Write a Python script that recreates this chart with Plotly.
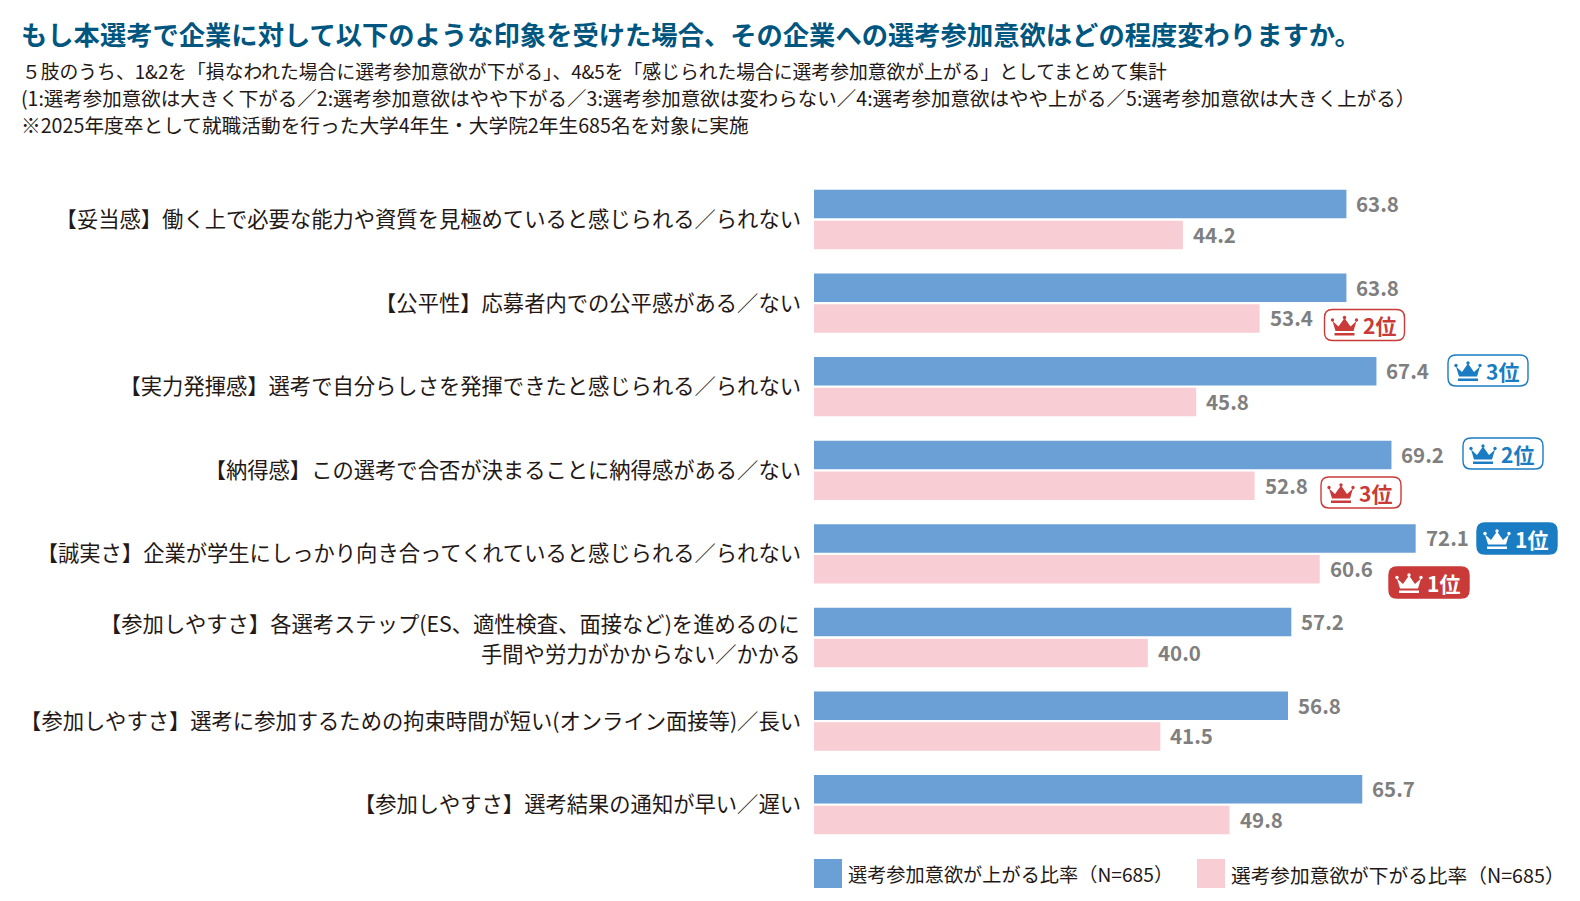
import plotly.graph_objects as go

WIDTH, HEIGHT = 1580, 901
FONT = "Noto Sans CJK JP"

categories = [
    "【妥当感】働く上で必要な能力や資質を見極めていると感じられる／られない",
    "【公平性】応募者内での公平感がある／ない",
    "【実力発揮感】選考で自分らしさを発揮できたと感じられる／られない",
    "【納得感】この選考で合否が決まることに納得感がある／ない",
    "【誠実さ】企業が学生にしっかり向き合ってくれていると感じられる／られない",
    "【参加しやすさ】各選考ステップ(ES、適性検査、面接など)を進めるのに<br>手間や労力がかからない／かかる",
    "【参加しやすさ】選考に参加するための拘束時間が短い(オンライン面接等)／長い",
    "【参加しやすさ】選考結果の通知が早い／遅い",
]
rise_values = [63.8, 63.8, 67.4, 69.2, 72.1, 57.2, 56.8, 65.7]
fall_values = [44.2, 53.4, 45.8, 52.8, 60.6, 40.0, 41.5, 49.8]
rise_name = "選考参加意欲が上がる比率（N=685）"
fall_name = "選考参加意欲が下がる比率（N=685）"

title_text = "もし本選考で企業に対して以下のような印象を受けた場合、その企業への選考参加意欲はどの程度変わりますか。"
note_lines = [
    "５肢のうち、1&2を「損なわれた場合に選考参加意欲が下がる」、4&5を「感じられた場合に選考参加意欲が上がる」としてまとめて集計",
    "(1:選考参加意欲は大きく下がる／2:選考参加意欲はやや下がる／3:選考参加意欲は変わらない／4:選考参加意欲はやや上がる／5:選考参加意欲は大きく上がる）",
    "※2025年度卒として就職活動を行った大学4年生・大学院2年生685名を対象に実施",
]

BLUE = "#6ba0d6"
PINK = "#f8ced4"
BADGE_BLUE = "#1a7cc2"
BADGE_RED = "#c93a38"
INK = "#231815"
GREY = "#7f7f7f"
LABEL_SIZE = 21.3


def px(x):
    return x / WIDTH


def py(y):
    return 1 - y / HEIGHT


fig = go.Figure()
fig.add_bar(name=rise_name, y=categories, x=rise_values, orientation="h",
            marker=dict(color=BLUE, line_width=0))
fig.add_bar(name=fall_name, y=categories, x=fall_values, orientation="h",
            marker=dict(color=PINK, line_width=0))

annotations = []
shapes = []


def add_text(x, y, text, size, color=INK, anchor="left", weight=None):
    annotations.append(dict(
        xref="paper", yref="paper", x=px(x), y=py(y), text=text, showarrow=False,
        xanchor=anchor, yanchor="middle", align=anchor,
        font=dict(family=FONT, size=size, color=color, weight=weight),
    ))


# Value labels sit just past the end of each bar
for cat, rise, fall in zip(categories, rise_values, fall_values):
    for value, shift in ((rise, 16.4), (fall, -14.4)):
        annotations.append(dict(
            xref="x", yref="y", x=value, y=cat, text=f"{value:.1f}", showarrow=False,
            xanchor="left", yanchor="middle", xshift=8, yshift=shift,
            font=dict(family=FONT, size=20.5, color=GREY, weight=700),
        ))

# Single-line categories use axis ticks; a wrapped one gets wider line spacing as two labels
tick_categories = [c for c in categories if "<br>" not in c]
for cat in categories:
    if "<br>" in cat:
        for line, shift in zip(cat.split("<br>"), (14.7, -14.7)):
            annotations.append(dict(
                xref="paper", yref="y", x=px(802), y=cat, text=line, showarrow=False,
                xanchor="right", yanchor="middle", yshift=shift,
                font=dict(family=FONT, size=LABEL_SIZE, color=INK),
            ))

add_text(19, 34, title_text, 26.3, "#00567f", weight=700)
add_text(20, 70, note_lines[0], 18.8)
add_text(19, 97, note_lines[1], 19.5)
add_text(19, 124, note_lines[2], 19.7)


def rounded_box(x0, y0, x1, y1, r):
    pts = (
        f"M {px(x0 + r)} {py(y0)} L {px(x1 - r)} {py(y0)} "
        f"Q {px(x1)} {py(y0)} {px(x1)} {py(y0 + r)} L {px(x1)} {py(y1 - r)} "
        f"Q {px(x1)} {py(y1)} {px(x1 - r)} {py(y1)} L {px(x0 + r)} {py(y1)} "
        f"Q {px(x0)} {py(y1)} {px(x0)} {py(y1 - r)} L {px(x0)} {py(y0 + r)} "
        f"Q {px(x0)} {py(y0)} {px(x0 + r)} {py(y0)} Z"
    )
    return pts


def crown(x, y, color):
    # Crown outline, three tip dots and the bar underneath
    outline = [(1, 5), (7, 10.5), (13, 2), (19, 10.5), (25, 5), (22, 15), (4, 15)]
    path = "M " + " L ".join(f"{px(x + a)} {py(y + b)}" for a, b in outline) + " Z"
    shapes.append(dict(type="path", xref="paper", yref="paper", path=path,
                       fillcolor=color, line_width=0))
    shapes.append(dict(type="rect", xref="paper", yref="paper",
                       x0=px(x + 3), x1=px(x + 23), y0=py(y + 17), y1=py(y + 19.5),
                       fillcolor=color, line_width=0))
    for a, b in ((1, 4), (13, 1.5), (25, 4)):
        shapes.append(dict(type="circle", xref="paper", yref="paper",
                           x0=px(x + a - 1.7), x1=px(x + a + 1.7),
                           y0=py(y + b - 1.7), y1=py(y + b + 1.7),
                           fillcolor=color, line_width=0))


def badge(x, y, rank, color, filled):
    shapes.append(dict(type="path", xref="paper", yref="paper",
                       path=rounded_box(x, y, x + 80, y + 31, 8),
                       fillcolor=color if filled else "white",
                       line=dict(color=color, width=1.4)))
    ink = "white" if filled else color
    crown(x + 7, y + 6.5, ink)
    add_text(x + 36, y + 15.5, rank, 21, ink, weight=700)


# Ranking badges: top three for each measure
badge(1324.5, 309.5, "2位", BADGE_RED, False)
badge(1448, 355, "3位", BADGE_BLUE, False)
badge(1463, 438, "2位", BADGE_BLUE, False)
badge(1321, 477, "3位", BADGE_RED, False)
badge(1477, 523, "1位", BADGE_BLUE, True)
badge(1389, 567, "1位", BADGE_RED, True)

# Hand-placed legend with tall swatches
for x_swatch, color, label, size in ((814, BLUE, rise_name, 19.2), (1197, PINK, fall_name, 19.7)):
    shapes.append(dict(type="rect", xref="paper", yref="paper",
                       x0=px(x_swatch), x1=px(x_swatch + 28), y0=py(859), y1=py(888),
                       fillcolor=color, line_width=0))
    add_text(x_swatch + 32, 874, label, size)

fig.update_layout(
    width=WIDTH, height=HEIGHT,
    margin=dict(l=0, r=0, t=0, b=0),
    paper_bgcolor="white", plot_bgcolor="white",
    barmode="group", bargap=0.263, bargroupgap=0.075,
    showlegend=False,
    annotations=annotations, shapes=shapes,
    font=dict(family=FONT, color=INK),
    xaxis=dict(domain=[814 / WIDTH, 1], range=[0, (WIDTH - 814) / 8.345], visible=False),
    yaxis=dict(
        domain=[py(846.5), py(177.7)], autorange=False, range=[7.5, -0.5],
        type="category", categoryorder="array", categoryarray=categories,
        tickmode="array", tickvals=tick_categories, ticktext=tick_categories,
        showline=False, showgrid=False, zeroline=False, ticks="",
        ticklabelstandoff=12, automargin=False,
        tickfont=dict(family=FONT, size=LABEL_SIZE, color=INK),
    ),
)

fig.write_html("out.html")
